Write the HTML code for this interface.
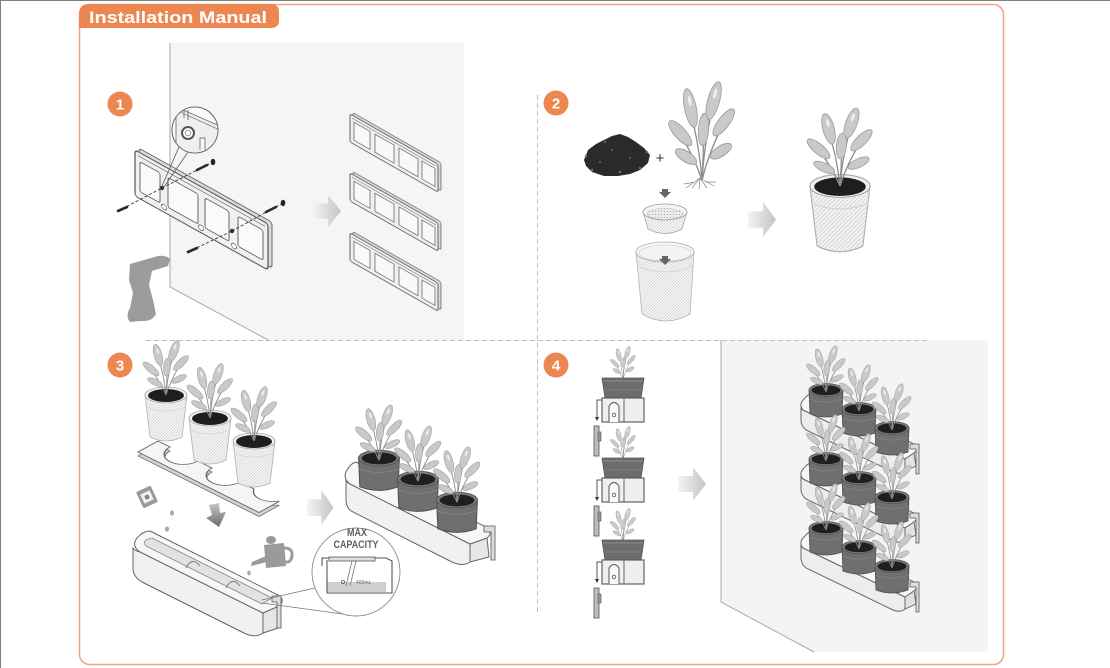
<!DOCTYPE html>
<html><head><meta charset="utf-8"><style>
html,body{margin:0;padding:0;background:#fff;}
svg{display:block;}
</style></head><body>
<svg width="1110" height="668" viewBox="0 0 1110 668" xmlns="http://www.w3.org/2000/svg">
<defs>
  <linearGradient id="arr" x1="0" x2="1" y1="0" y2="0">
    <stop offset="0" stop-color="#f4f4f4"/><stop offset="1" stop-color="#c4c4c4"/>
  </linearGradient>
  <linearGradient id="darr" x1="0" x2="0" y1="0" y2="1">
    <stop offset="0" stop-color="#c8c8c8"/><stop offset="1" stop-color="#6a6a6a"/>
  </linearGradient>
  <pattern id="tex" width="3" height="3" patternUnits="userSpaceOnUse">
    <rect width="3" height="3" fill="#f4f4f4"/>
    <path d="M0,3 L3,0" stroke="#cdcdcd" stroke-width="0.6"/>
  </pattern>
  <pattern id="dots" width="3" height="3" patternUnits="userSpaceOnUse">
    <rect width="3" height="3" fill="#ececec"/>
    <circle cx="1.5" cy="1.5" r="0.6" fill="#aaa"/>
  </pattern>
  <clipPath id="mag1"><circle cx="195" cy="130" r="22.5"/></clipPath>
  <clipPath id="mag3"><circle cx="356" cy="572" r="43.5"/></clipPath>

  <g id="plant">
    <g fill="none" stroke="#8c8c8c" stroke-width="0.9">
      <path d="M0,0 Q-2,-20 -8,-38"/>
      <path d="M0,0 Q2,-24 8,-42"/>
      <path d="M0,0 Q5,-16 14,-30"/>
      <path d="M0,0 Q-5,-12 -14,-24"/>
      <path d="M0,0 Q1,-12 1,-26"/>
    </g>
    <g fill="#c9c9c9" stroke="#a0a0a0" stroke-width="0.6">
      <ellipse cx="-8" cy="-40" rx="4" ry="11" transform="rotate(-15 -8 -40)"/>
      <ellipse cx="8" cy="-44" rx="4" ry="11" transform="rotate(20 8 -44)"/>
      <ellipse cx="15" cy="-32" rx="3.5" ry="10" transform="rotate(45 15 -32)"/>
      <ellipse cx="-15" cy="-26" rx="3.5" ry="10" transform="rotate(-50 -15 -26)"/>
      <ellipse cx="1" cy="-28" rx="3.5" ry="9" transform="rotate(5 1 -28)"/>
      <ellipse cx="13" cy="-16" rx="3" ry="8" transform="rotate(65 13 -16)"/>
      <ellipse cx="-11" cy="-13" rx="3" ry="8" transform="rotate(-65 -11 -13)"/>
    </g>
    <g fill="#eeeeee">
      <ellipse cx="-8.5" cy="-44" rx="1.1" ry="3" transform="rotate(-15 -8.5 -44)"/>
      <ellipse cx="9" cy="-48" rx="1.1" ry="3" transform="rotate(20 9 -48)"/>
    </g>
  </g>

  <g id="arrow"><path d="M0,9 H15 V0 L28,17 L15,34 V25 H0 Z" fill="url(#arr)"/></g>

  <g id="dpot">
    <path d="M-17,0 L-16,24 Q0,30 16,24 L17,0 Z" fill="#6f6f6f" stroke="#4e4e4e" stroke-width="0.8"/>
    <path d="M-16.5,9 Q0,15 16.5,9" fill="none" stroke="#858585" stroke-width="0.7"/>
    <ellipse rx="17" ry="6.5" fill="#7c7c7c" stroke="#555" stroke-width="0.8"/>
    <ellipse rx="14.5" ry="5" cy="0.3" fill="#1f1f1f"/>
    <use href="#plant" transform="translate(0,2) scale(0.85)"/>
  </g>

  <g id="lpot">
    <path d="M-21,0 L-16,42 Q0,50 16,42 L21,0 Z" fill="url(#tex)" stroke="#b0b0b0" stroke-width="0.8"/>
    <path d="M-20,12 Q0,20 20,12" fill="none" stroke="#d4d4d4" stroke-width="0.8"/>
    <ellipse rx="21" ry="8" fill="#f1f1f1" stroke="#a8a8a8" stroke-width="0.8"/>
    <ellipse rx="18" ry="6.5" cy="0.5" fill="#1e1e1e"/>
    <use href="#plant"/>
  </g>

  <g id="sbr">
    <rect x="3" y="-3" width="88" height="28" rx="2" fill="#d8d8d8" stroke="#777" stroke-width="0.9"/>
    <rect x="0" y="0" width="88" height="28" rx="2" fill="#efefef" stroke="#666" stroke-width="1"/>
    <g fill="#f9f9f9" stroke="#777" stroke-width="0.9">
      <rect x="4" y="6" width="16" height="18"/>
      <rect x="25" y="6" width="19" height="18"/>
      <rect x="49" y="6" width="19" height="18"/>
      <rect x="72" y="6" width="13" height="18"/>
    </g>
    <line x1="2" y1="3" x2="86" y2="3" stroke="#888" stroke-width="0.8"/>
  </g>

  <path id="plateShape" d="M0,0 L12,0 A14,14 0 0 0 40,0 L54,0 A14,14 0 0 0 82,0 L96,0 A14,14 0 0 0 120,0 L121,0 L121,20 L0,20 Z"/>
</defs>

<!-- outer edges -->
<line x1="0" y1="0.5" x2="1110" y2="0.5" stroke="#808080" stroke-width="1"/>
<line x1="0.5" y1="0" x2="0.5" y2="668" stroke="#808080" stroke-width="1"/>

<!-- frame -->
<rect x="79.5" y="4.5" width="924" height="660" rx="10" fill="none" stroke="#efa57d" stroke-width="1.5"/>
<path d="M79,28 L79,14 Q79,4 89,4 L271,4 Q279,4 279,12 L279,20 Q279,28 271,28 Z" fill="#ed8752"/>
<text x="89" y="23" font-family="Liberation Sans, sans-serif" font-size="17" font-weight="bold" fill="#fff" textLength="178" lengthAdjust="spacingAndGlyphs">Installation Manual</text>

<!-- dividers -->
<line x1="537.5" y1="95" x2="537.5" y2="613" stroke="#bdbdbd" stroke-width="1" stroke-dasharray="5,3"/>

<!-- ============ STEP 1 ============ -->
<polygon points="170,43 464,43 464,340 268,340 170,287" fill="#f5f5f5"/>
<polyline points="170,43 170,287 268,340" fill="none" stroke="#a9a9a9" stroke-width="1"/>

<g transform="matrix(1,0.556,0,1,135,150)">
  <rect x="4" y="-4" width="133" height="46" rx="3" fill="#d9d9d9" stroke="#666" stroke-width="1"/>
  <rect x="0" y="0" width="133" height="46" rx="3" fill="#f0f0f0" stroke="#555" stroke-width="1.2"/>
  <g fill="#fafafa" stroke="#666" stroke-width="1">
    <rect x="5" y="9" width="20" height="30" rx="2"/>
    <rect x="33" y="9" width="30" height="30" rx="2"/>
    <rect x="70" y="9" width="24" height="30" rx="2"/>
    <rect x="103" y="9" width="25" height="30" rx="2"/>
  </g>
  <line x1="3" y1="4" x2="130" y2="4" stroke="#777" stroke-width="0.9"/>
  <g fill="#fff" stroke="#666" stroke-width="0.8">
    <circle cx="29" cy="41" r="2.5"/><circle cx="66" cy="41" r="2.5"/><circle cx="99" cy="41" r="2.5"/>
  </g>
</g>
<circle cx="162" cy="188" r="2.2" fill="#333"/>
<circle cx="232" cy="231" r="2.2" fill="#333"/>
<g stroke="#333" stroke-width="0.9" stroke-dasharray="3,2" fill="none">
  <line x1="118" y1="211" x2="162" y2="188"/>
  <line x1="162" y1="188" x2="213" y2="162"/>
  <line x1="188" y1="252" x2="232" y2="231"/>
  <line x1="232" y1="231" x2="283" y2="203"/>
</g>
<g stroke="#2a2a2a" stroke-width="2.6" stroke-linecap="round">
  <line x1="118" y1="211" x2="127" y2="207"/>
  <line x1="188" y1="252" x2="197" y2="248"/>
  <line x1="197" y1="170" x2="207" y2="165"/>
  <line x1="266" y1="212" x2="276" y2="207"/>
</g>
<ellipse cx="213" cy="162" rx="2.3" ry="3.2" fill="#222"/>
<ellipse cx="283" cy="203" rx="2.3" ry="3.2" fill="#222"/>

<line x1="179" y1="147" x2="162" y2="186" stroke="#666" stroke-width="0.9"/>
<line x1="188" y1="152" x2="164" y2="187" stroke="#666" stroke-width="0.9"/>
<circle cx="195" cy="130" r="23" fill="#fafafa" stroke="#666" stroke-width="1"/>
<g clip-path="url(#mag1)">
  <path d="M176,107 L222,127 L222,160 L176,160 Z" fill="#efefef" stroke="#777" stroke-width="0.9"/>
  <path d="M184,108 V118 M188,110 V120" stroke="#777" stroke-width="1" fill="none"/>
  <path d="M180,112 L222,131" stroke="#888" stroke-width="0.9"/>
  <path d="M200,150 V138 H205 V152" fill="#f8f8f8" stroke="#777" stroke-width="0.9"/>
  <circle cx="188" cy="133" r="6" fill="#fff" stroke="#555" stroke-width="2"/>
  <circle cx="188" cy="133" r="2.8" fill="none" stroke="#888" stroke-width="0.8"/>
</g>

<path d="M130,264 L158,256 Q166,255 170,259 L168,266 L152,271 L149,285 L153,300 L156,314 Q152,322 140,321 L130,322 Q125,316 130,308 L133,293 L129,280 Z" fill="#9c9c9c"/>

<use href="#arrow" transform="translate(313,195) scale(1,0.95)"/>

<use href="#sbr" transform="matrix(1,0.57,0,1,350,114)"/>
<use href="#sbr" transform="matrix(1,0.57,0,1,350,173)"/>
<use href="#sbr" transform="matrix(1,0.57,0,1,350,233)"/>

<!-- ============ STEP 2 ============ -->
<polygon points="584,160 588,150 596,144 604,140 612,136 620,134 628,137 636,142 644,148 650,155 648,163 640,170 630,174 618,176 604,176 592,172 586,166" fill="#2a2a2a"/>
<g fill="#777">
  <circle cx="586" cy="156" r="1.3"/><circle cx="592" cy="170" r="1.2"/><circle cx="647" cy="152" r="1.2"/>
  <circle cx="640" cy="168" r="1.1"/><circle cx="605" cy="142" r="1"/><circle cx="620" cy="172" r="1.2"/>
  <circle cx="612" cy="150" r="0.9"/><circle cx="630" cy="158" r="0.9"/><circle cx="600" cy="162" r="0.9"/>
</g>
<text x="660" y="163" font-family="Liberation Sans, sans-serif" font-size="15" fill="#333" text-anchor="middle">+</text>
<g stroke="#8a8a8a" stroke-width="0.7" fill="none">
  <path d="M700,178 L686,188 M700,178 L692,188 M700,178 L699,189 M700,178 L707,188 M700,178 L714,186 M695,182 L684,184 M705,182 L716,182"/>
</g>
<use href="#plant" transform="translate(702,180) scale(1.45,1.8)"/>
<path d="M662,189 h6 v3 h3 l-6,6 l-6,-6 h3 z" fill="#666"/>
<path d="M643,212 L648,229 Q665,238 682,229 L687,212 Z" fill="url(#tex)" stroke="#aaa" stroke-width="0.8"/>
<ellipse cx="665" cy="212" rx="22" ry="8" fill="#f5f5f5" stroke="#999" stroke-width="0.8"/>
<ellipse cx="665" cy="214" rx="18" ry="5.5" fill="url(#dots)" stroke="#bbb" stroke-width="0.6"/>
<path d="M636,252 L642,314 Q666,328 690,314 L694,252 Z" fill="url(#tex)" stroke="#b5b5b5" stroke-width="0.8"/>
<path d="M637,266 Q665,278 693,266" fill="none" stroke="#d2d2d2" stroke-width="0.8"/>
<ellipse cx="665" cy="252" rx="29" ry="10" fill="#f8f8f8" stroke="#aaa" stroke-width="0.8"/>
<ellipse cx="665" cy="253" rx="26" ry="8" fill="#f3f3f3" stroke="#ccc" stroke-width="0.6"/>
<path d="M662,256 h6 v3 h3 l-6,6 l-6,-6 h3 z" fill="#666"/>

<use href="#arrow" transform="translate(748,202) scale(1,1.03)"/>

<use href="#lpot" transform="translate(840,186) scale(1.43)"/>

<!-- ============ STEP 3 ============ -->
<!-- holder plate -->
<g transform="translate(0,4)">
  <use href="#plateShape" transform="matrix(1,0.5,-1,0.55,158,441)" fill="#d2d2d2" stroke="#777" stroke-width="0.9"/>
</g>
<use href="#plateShape" transform="matrix(1,0.5,-1,0.55,158,441)" fill="#f5f5f5" stroke="#666" stroke-width="1"/>

<use href="#lpot" transform="translate(166,395)"/>
<use href="#lpot" transform="translate(210,418)"/>
<use href="#lpot" transform="translate(254,441)"/>

<g transform="rotate(-25 147 497)">
  <rect x="139" y="488" width="16" height="18" rx="1.5" fill="#9a9a9a"/>
  <rect x="142" y="492" width="10" height="10" fill="#f4f4f4"/>
  <circle cx="147" cy="497" r="2.5" fill="#888"/>
</g>
<g fill="#a8a8a8">
  <ellipse cx="172" cy="513" rx="2" ry="2.6"/><ellipse cx="167" cy="529" rx="2" ry="2.6"/>
  <ellipse cx="249" cy="573" rx="1.8" ry="2.4"/><ellipse cx="231" cy="585" rx="1.5" ry="2"/>
</g>
<path d="M209,505 L219,503 L220,513 L226,512 L219,527 L206,518 L212,515 Z" fill="url(#darr)"/>
<g fill="#9a9a9a">
  <path d="M264,545 L284,543 L286,566 L266,568 Z"/>
  <path d="M284,548 Q293,548 292,556 Q291,563 285,562" fill="none" stroke="#9a9a9a" stroke-width="3"/>
  <path d="M266,556 L252,562 L251,566 L267,562 Z"/>
  <ellipse cx="271" cy="540" rx="5" ry="4"/>
</g>

<path d="M140,552 L263,613 L263,633 Q256,638 246,634 L142,582 Q133,577 133,568 L133,548 Q135,551 140,552 Z" fill="#f1f1f1" stroke="#666" stroke-width="1"/>
<path d="M263,613 L279,606 L281,627 L263,633 Z" fill="#e6e6e6" stroke="#666" stroke-width="1"/>
<path d="M150,531 L278,595 Q286,600 279,606 L263,613 L140,552 Q131,546 137,538 Q143,531 150,531 Z" fill="#f7f7f7" stroke="#666" stroke-width="1"/>
<path d="M152,538 L272,598 L262,604 L146,546 Q141,540 152,538 Z" fill="#e2e2e2" stroke="#888" stroke-width="0.8"/>
<path d="M186,568 Q192,556 200,566 M226,588 Q232,576 240,586" fill="none" stroke="#777" stroke-width="0.9"/>
<path d="M272,596 h9 v32 h-4 v-26 h-5 z" fill="#ddd" stroke="#555" stroke-width="0.8"/>

<line x1="262" y1="600" x2="315" y2="588" stroke="#777" stroke-width="0.8"/>
<line x1="262" y1="603" x2="350" y2="615" stroke="#777" stroke-width="0.8"/>
<circle cx="356" cy="572" r="44" fill="#fff" stroke="#8a8a8a" stroke-width="0.9"/>
<g clip-path="url(#mag3)">
  <rect x="327" y="582" width="59" height="10" fill="#cfcfcf"/>
  <path d="M322,566 V558 H386 L392,561 V593 H327 V560" fill="none" stroke="#555" stroke-width="1.1"/>
  <rect x="329" y="557" width="46" height="4" fill="#e0e0e0" stroke="#555" stroke-width="0.8"/>
  <path d="M352,561 L346,586 M356,561 L350,586" stroke="#777" stroke-width="0.8"/>
  <circle cx="343" cy="582" r="1.6" fill="none" stroke="#555" stroke-width="0.8"/>
  <text x="356" y="584" font-family="Liberation Sans, sans-serif" font-size="5" fill="#666">400mL</text>
</g>
<text x="357" y="536" font-family="Liberation Sans, sans-serif" font-size="11" font-weight="bold" fill="#606060" text-anchor="middle" textLength="20" lengthAdjust="spacingAndGlyphs">MAX</text>
<text x="356" y="548" font-family="Liberation Sans, sans-serif" font-size="11" font-weight="bold" fill="#606060" text-anchor="middle" textLength="45" lengthAdjust="spacingAndGlyphs">CAPACITY</text>

<use href="#arrow" transform="translate(307,490) scale(0.95,1.03)"/>

<path d="M350,484 L470,544 L470,562 Q463,567 452,562 L351,511 Q346,507 346,500 L346,480 Q347,483 350,484 Z" fill="#f1f1f1" stroke="#666" stroke-width="1"/>
<path d="M470,544 L487,538 L489,557 L470,562 Z" fill="#e6e6e6" stroke="#666" stroke-width="1"/>
<path d="M356,462 L486,527 Q494,532 487,538 L470,544 L350,484 Q342,478 347,470 Q351,463 356,462 Z" fill="#f7f7f7" stroke="#666" stroke-width="1"/>
<path d="M484,526 h11 v34 h-4 v-28 h-7 z" fill="#ddd" stroke="#555" stroke-width="0.8"/>
<use href="#dpot" transform="translate(379,458) scale(1.2)"/>
<use href="#dpot" transform="translate(418,479) scale(1.2)"/>
<use href="#dpot" transform="translate(457,500) scale(1.2)"/>

<!-- ============ STEP 4 ============ -->
<polygon points="721,340 988,340 988,652 814,652 721,602" fill="#f4f4f4"/>
<polyline points="721,340 721,602 814,652" fill="none" stroke="#a9a9a9" stroke-width="1"/>
<line x1="146" y1="340.5" x2="927" y2="340.5" stroke="#bdbdbd" stroke-width="1" stroke-dasharray="5,3"/>

<g id="unit">
  <use href="#plant" transform="translate(623,379) scale(0.55,0.6)"/>
  <path d="M602,378 H644 L641,398 H605 Z" fill="#6d6d6d" stroke="#555" stroke-width="0.8"/>
  <line x1="603" y1="381" x2="643" y2="381" stroke="#8a8a8a" stroke-width="1"/>
  <line x1="605" y1="390" x2="641" y2="390" stroke="#7d7d7d" stroke-width="1"/>
  <rect x="602" y="398" width="42" height="24" fill="#efefef" stroke="#555" stroke-width="1.1"/>
  <path d="M609,422 V406 Q614,399 619,406 V422" fill="#fafafa" stroke="#555" stroke-width="1"/>
  <circle cx="614" cy="415" r="1.8" fill="none" stroke="#555" stroke-width="0.8"/>
  <line x1="624" y1="398" x2="624" y2="422" stroke="#666" stroke-width="1"/>
  <path d="M602,400 H597 V418" fill="none" stroke="#555" stroke-width="1"/>
  <path d="M595,417 L597,421 L599,417 Z" fill="#333"/>
  <rect x="594" y="426" width="5" height="30" fill="#bdbdbd" stroke="#555" stroke-width="0.8"/>
  <rect x="598" y="432" width="3" height="9" fill="#999" stroke="#555" stroke-width="0.6"/>
</g>
<use href="#unit" transform="translate(0,80)"/>
<use href="#unit" transform="translate(0,162)"/>

<use href="#arrow" transform="translate(678,467)"/>

<g id="tier">
  <path d="M803,410 L905,459 L905,471 Q900,475 893,472 L806,430 Q801,426 801,420 L801,408 Z" fill="#ededed" stroke="#666" stroke-width="1"/>
  <path d="M812,394 L914,444 Q920,448 914,453 L905,459 L803,410 Q798,404 805,398 Q808,394 812,394 Z" fill="#f7f7f7" stroke="#666" stroke-width="1"/>
  <path d="M905,459 L914,453 L916,466 L905,471 Z" fill="#e2e2e2" stroke="#666" stroke-width="0.9"/>
  <path d="M910,444 h9 v30 h-3 v-25 h-6 z" fill="#ddd" stroke="#555" stroke-width="0.8"/>
  <use href="#dpot" transform="translate(826,390)"/>
  <use href="#dpot" transform="translate(859,409)"/>
  <use href="#dpot" transform="translate(892,428)"/>
</g>
<use href="#tier" transform="translate(0,69)"/>
<use href="#tier" transform="translate(0,138)"/>

<g font-family="Liberation Sans, sans-serif" font-size="15" font-weight="bold" fill="#fff" text-anchor="middle">
  <circle cx="120" cy="104" r="12.5" fill="#ed8752"/><text x="120" y="109.5">1</text>
  <circle cx="556" cy="103" r="12.5" fill="#ed8752"/><text x="556" y="108.5">2</text>
  <circle cx="120" cy="365" r="12.5" fill="#ed8752"/><text x="120" y="370.5">3</text>
  <circle cx="556" cy="365" r="12.5" fill="#ed8752"/><text x="556" y="370.5">4</text>
</g>
</svg>
</body></html>
